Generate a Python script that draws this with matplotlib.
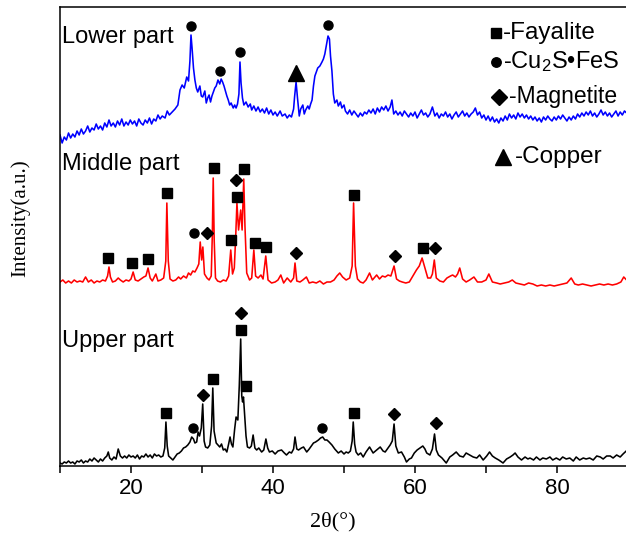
import matplotlib
matplotlib.use("Agg")
import matplotlib.pyplot as plt

plt.rcParams['font.family'] = ['Liberation Sans', 'DejaVu Sans']
plt.rcParams['mathtext.fontset'] = 'custom'
plt.rcParams['mathtext.rm'] = 'Liberation Sans'
plt.rcParams['mathtext.it'] = 'Liberation Sans:italic'

# ---------------- data (2theta in degrees, intensity in a.u.) ----------------
lower_x = [10.0,10.3,10.6,10.9,11.2,11.5,11.8,12.1,12.4,12.7,13.0,13.3,13.6,13.9,14.2,14.5,14.8,15.1,15.4,15.7,
           16.0,16.3,16.6,16.9,17.2,17.5,17.8,18.1,18.4,18.7,19.0,19.3,19.6,19.9,20.2,20.5,20.8,21.1,21.4,21.7,
           22.0,22.3,22.6,22.9,23.2,23.5,23.8,24.1,24.4,24.8,25.1,25.4,25.8,26.2,26.6,26.9,27.2,27.5,27.85,28.1,
           28.3,28.45,28.6,28.8,29.0,29.2,29.4,29.7,29.9,30.1,30.4,30.6,30.8,31.0,31.2,31.4,31.6,31.8,32.0,32.25,
           32.5,32.7,32.9,33.1,33.3,33.5,33.7,33.9,34.1,34.4,34.6,34.8,35.0,35.2,35.35,35.5,35.7,35.9,36.2,36.5,
           36.8,37.0,37.3,37.6,37.9,38.2,38.5,38.8,39.1,39.4,39.7,40.0,40.3,40.6,41.0,41.3,41.7,42.0,42.3,42.6,
           42.9,43.05,43.25,43.45,43.7,43.9,44.2,44.4,44.6,44.9,45.1,45.3,45.5,45.7,45.9,46.1,46.3,46.6,46.9,47.1,
           47.3,47.5,47.75,47.95,48.1,48.3,48.5,48.7,49.0,49.2,49.5,49.7,50.0,50.2,50.5,50.8,51.1,51.4,51.7,52.0,
           52.3,52.6,52.9,53.2,53.5,53.8,54.1,54.4,54.7,55.0,55.3,55.6,55.9,56.2,56.5,56.75,57.0,57.3,57.6,57.9,
           58.2,58.5,58.8,59.1,59.4,59.7,60.0,60.3,60.6,60.9,61.2,61.5,61.8,62.1,62.45,62.8,63.1,63.4,63.7,64.0,
           64.3,64.6,64.9,65.2,65.5,65.8,66.1,66.4,66.7,67.0,67.3,67.6,67.9,68.2,68.5,68.8,69.1,69.4,69.7,70.0,
           70.3,70.6,70.9,71.2,71.5,71.8,72.1,72.4,72.7,73.0,73.3,73.6,73.9,74.2,74.5,74.8,75.1,75.4,75.7,76.0,
           76.3,76.6,76.9,77.2,77.5,77.8,78.1,78.4,78.7,79.0,79.3,79.6,79.9,80.2,80.5,80.8,81.1,81.4,81.7,82.0,
           82.3,82.6,82.9,83.2,83.5,83.8,84.1,84.4,84.7,85.0,85.3,85.6,85.9,86.2,86.5,86.8,87.1,87.4,87.7,88.0,
           88.3,88.6,88.9,89.2,89.5,89.8]
lower_y = [331,323,329,326,333,328,332,329,335,331,337,332,335,340,334,338,336,342,337,340,
           336,343,339,346,340,343,339,345,341,347,340,344,341,346,342,345,340,347,343,341,
           346,343,348,342,347,345,351,347,350,348,355,351,354,357,361,376,381,378,389,385,
           405,431,418,398,386,378,374,380,370,369,375,363,368,371,364,370,374,378,380,386,
           382,387,384,380,375,370,366,361,363,358,361,358,362,372,404,383,368,361,364,359,
           362,356,360,355,359,354,357,353,358,352,356,351,354,350,355,350,352,348,351,349,
           357,370,384,368,350,357,361,352,356,360,357,362,366,380,390,394,398,400,404,407,
           412,420,430,427,410,395,372,363,366,360,364,358,361,355,352,356,351,355,352,349,
           353,350,354,352,356,353,357,352,358,354,359,356,360,355,359,366,352,355,351,354,
           350,355,352,349,353,350,354,348,352,356,351,353,349,352,359,350,353,348,352,350,
           354,349,352,347,351,354,349,352,355,350,353,349,352,354,358,351,354,348,351,346,
           350,345,349,344,347,343,348,345,350,346,352,348,351,347,353,349,352,348,351,347,
           350,346,349,345,348,344,349,346,350,347,345,349,346,350,347,351,348,345,349,346,
           350,347,352,349,353,350,354,351,355,350,353,349,352,356,351,354,350,353,349,352,
           355,350,354,351,355,353]

middle_x = [10.0,10.4,10.8,11.2,11.6,12.0,12.4,12.8,13.2,13.6,14.0,14.4,14.8,15.2,15.6,16.0,16.4,16.7,16.9,17.1,
            17.4,17.8,18.2,18.5,18.9,19.3,19.7,20.0,20.3,20.6,21.0,21.4,21.8,22.1,22.4,22.7,23.0,23.5,23.8,24.2,
            24.6,24.9,25.05,25.25,25.5,25.9,26.3,26.7,27.0,27.4,27.8,28.1,28.4,28.7,29.0,29.3,29.55,29.75,29.95,30.12,
            30.35,30.7,31.0,31.3,31.45,31.58,31.72,31.9,32.2,32.6,33.0,33.4,33.75,34.05,34.3,34.55,34.75,34.92,35.15,35.45,
            35.65,35.88,36.05,36.3,36.7,37.0,37.3,37.55,37.9,38.3,38.6,38.98,39.3,39.8,40.3,40.7,41.1,41.5,42.0,42.5,
            42.9,43.1,43.35,43.8,44.2,44.7,45.1,45.6,46.1,46.6,47.1,47.6,48.1,48.6,49.0,49.4,49.8,50.3,50.8,51.15,
            51.35,51.6,51.9,52.3,52.7,53.1,53.6,54.0,54.6,55.0,55.4,55.8,56.2,56.6,57.05,57.4,57.8,58.2,58.7,59.2,
            59.7,60.2,60.6,61.0,61.4,61.8,62.2,62.45,62.72,63.0,63.5,64.0,64.5,65.0,65.3,65.7,66.0,66.3,66.7,67.2,
            67.7,68.3,68.8,69.4,70.0,70.4,70.9,71.5,72.0,72.6,73.2,73.7,74.2,74.8,75.4,76.0,76.6,77.2,77.8,78.4,
            79.0,79.6,80.2,80.8,81.4,82.0,82.5,83.0,83.6,84.2,84.8,85.4,86.0,86.6,87.2,87.8,88.4,89.0,89.4,89.8]
middle_y = [184,186,183,185,183,186,184,185,184,189,184,186,183,185,184,186,185,190,199,189,
            184,185,188,186,184,186,185,187,194,186,185,187,189,190,198,188,185,192,185,186,
            188,205,263,205,187,185,186,189,187,190,188,193,191,195,194,198,202,224,206,219,
            192,188,186,190,230,288,225,188,185,184,186,185,190,216,192,198,230,263,236,256,
            236,287,240,193,186,188,216,190,188,191,187,210,186,183,184,186,191,183,188,184,
            188,203,185,184,186,189,183,184,183,185,182,184,184,186,190,193,189,186,188,200,
            263,200,187,184,183,186,193,186,191,187,190,189,191,190,200,187,185,184,183,184,
            190,196,200,208,198,188,188,192,206,188,185,184,188,190,191,189,192,198,187,184,
            186,189,184,184,186,192,184,183,182,183,184,186,183,182,181,183,182,180,181,180,
            181,180,181,182,183,188,182,181,182,181,180,181,182,181,182,181,182,184,189,186]

upper_x = [10.0,10.3,10.6,10.9,11.2,11.5,11.8,12.1,12.4,12.7,13.0,13.3,13.6,13.9,14.2,14.5,14.8,15.1,15.4,15.7,
           16.0,16.3,16.6,16.8,17.0,17.3,17.6,17.9,18.2,18.5,18.8,19.1,19.4,19.7,20.0,20.3,20.6,20.9,21.2,21.5,
           21.8,22.1,22.4,22.7,23.0,23.3,23.6,23.9,24.2,24.5,24.75,24.92,25.1,25.3,25.6,25.9,26.2,26.5,26.8,27.1,
           27.4,27.7,28.0,28.3,28.55,28.8,29.0,29.25,29.45,29.65,29.9,30.1,30.3,30.5,30.8,31.1,31.35,31.52,31.7,32.0,
           32.25,32.5,32.75,33.0,33.25,33.5,33.75,33.95,34.15,34.35,34.6,34.8,35.05,35.25,35.45,35.6,35.72,35.84,36.0,36.2,
           36.4,36.7,36.95,37.2,37.45,37.7,38.0,38.4,38.7,39.0,39.25,39.5,39.9,40.3,40.7,41.2,41.6,41.9,42.3,42.6,
           42.9,43.1,43.35,43.6,44.0,44.3,44.75,45.1,45.4,45.7,46.0,46.4,46.7,47.0,47.3,47.6,47.9,48.3,48.7,49.2,
           49.6,50.0,50.3,50.6,50.9,51.15,51.3,51.5,51.7,52.0,52.35,52.7,53.1,53.6,54.1,54.6,55.1,55.5,55.8,56.2,
           56.5,56.8,57.05,57.3,57.65,58.1,58.5,58.8,59.2,59.5,59.9,60.3,60.7,61.1,61.4,61.65,62.1,62.45,62.75,63.0,
           63.3,63.8,64.4,64.9,65.3,65.8,66.3,66.8,67.2,67.7,68.2,68.7,69.1,69.6,70.1,70.5,70.9,71.3,71.8,72.4,
           72.9,73.4,73.8,74.1,74.5,75.0,75.5,75.9,76.2,76.7,77.1,77.6,78.0,78.5,79.0,79.4,79.9,80.4,80.8,81.3,
           81.8,82.3,82.7,83.2,83.7,84.1,84.6,85.1,85.6,86.1,86.5,87.0,87.5,87.9,88.4,88.9,89.3,89.6,89.9]
upper_y = [3,2,4,3,5,3,4,2,5,4,6,3,5,4,7,5,8,6,4,7,
           5,8,10,14,8,6,9,7,17,10,8,10,8,11,9,10,8,11,7,10,
           9,12,9,11,8,12,10,11,9,10,18,44,20,10,8,6,9,12,13,15,
           18,19,21,24,29,27,23,24,34,30,38,62,25,19,18,21,40,78,35,23,
           21,19,22,16,17,14,22,29,22,19,37,49,46,80,127,70,64,69,52,30,
           19,18,20,31,18,16,18,14,16,27,18,14,15,12,15,16,13,11,14,13,
           17,29,17,16,18,19,14,17,20,23,24,26,28,29,26,26,24,21,17,13,
           15,12,14,13,15,25,44,22,14,11,13,9,14,19,13,16,19,15,14,18,
           21,25,42,20,13,14,9,4,7,8,13,16,18,20,17,13,11,17,32,16,
           11,8,3,9,11,14,10,9,13,11,9,8,11,6,10,14,10,8,6,3,
           7,9,11,13,9,6,9,7,8,6,9,6,8,7,9,6,8,6,9,7,
           8,5,9,6,8,7,8,6,10,9,7,10,10,8,11,9,12,14,16]

# phase markers (2theta, intensity)
lower_circ_x = [28.45, 32.55, 35.35, 47.75]
lower_circ_y = [440, 395, 414, 441]
lower_tri_x = [43.25]
lower_tri_y = [393]

middle_sq_x = [16.8, 20.2, 22.35, 25.0, 31.65, 34.05, 34.9, 35.9, 37.4, 39.0, 51.4, 61.1]
middle_sq_y = [208, 203, 207, 273, 298, 226, 269, 297, 223, 219, 271, 218]
middle_circ_x = [28.9]
middle_circ_y = [233]
middle_dia_x = [30.65, 34.8, 43.2, 57.2, 62.8]
middle_dia_y = [233, 286, 213, 210, 218]

upper_sq_x = [24.9, 31.6, 35.5, 36.2, 51.4]
upper_sq_y = [53, 87, 136, 80, 53]
upper_dia_x = [30.1, 35.55, 57.1, 62.9]
upper_dia_y = [71, 153, 52, 43]
upper_circ_x = [28.8, 46.95]
upper_circ_y = [38, 38]

sample_labels = ["Lower part", "Middle part", "Upper part"]
sample_label_y = [423, 296, 119]
legend_labels = ["-Fayalite", "-Cu$_{2}$S\u2022FeS", "-Magnetite", "-Copper"]

# ---------------- figure ----------------
W, H = 626, 541
fig = plt.figure(figsize=(W / 100, H / 100), dpi=100)
ax = fig.add_axes([60 / W, 75 / H, 568 / W, 459 / H])

ax.plot(lower_x, lower_y, color='#0000ff', lw=1.15)
ax.plot(middle_x, middle_y, color='#ff0000', lw=1.15)
ax.plot(upper_x, upper_y, color='black', lw=1.15)

mk = dict(color='black', ls='none')
ax.plot(lower_circ_x, lower_circ_y, 'o', ms=6.5, **mk)
ax.plot(lower_tri_x, lower_tri_y, '^', ms=11, **mk)
ax.plot(middle_sq_x, middle_sq_y, 's', ms=7.2, **mk)
ax.plot(middle_circ_x, middle_circ_y, 'o', ms=6.5, **mk)
ax.plot(middle_dia_x, middle_dia_y, 'D', ms=6.2, **mk)
ax.plot(upper_sq_x, upper_sq_y, 's', ms=7.2, **mk)
ax.plot(upper_dia_x, upper_dia_y, 'D', ms=6.2, **mk)
ax.plot(upper_circ_x, upper_circ_y, 'o', ms=6.5, **mk)

for lab, yy in zip(sample_labels, sample_label_y):
    ax.text(10.3, yy, lab, fontsize=17, va='baseline', ha='left')

# legend (symbol + text)
leg_sym = ['s', 'o', 'D', '^']
leg_ms = [6.8, 6.8, 8.0, 11.5]
leg_sym_x = [71.4, 71.4, 71.9, 72.4]
leg_txt_x = [72.4, 72.4, 73.2, 74.1]
leg_y = [433, 404, 369, 309]
leg_fs = [17.5, 17, 16.5, 17.5]
for s, m, sx, tx, yy, lab, fs in zip(leg_sym, leg_ms, leg_sym_x, leg_txt_x, leg_y, legend_labels, leg_fs):
    ax.plot([sx], [yy], s, ms=m, color='black', ls='none', clip_on=False)
    ax.text(tx, yy, lab, fontsize=fs, va='center', ha='left')

ax.set_xlim(10, 90)
ax.set_ylim(0, 459)
ax.set_xticks([20, 40, 60, 80])
ax.set_xticks([10, 30, 50, 70, 90], minor=True)
ax.set_yticks([])
ax.tick_params(axis='x', which='both', direction='out', length=5, width=1.1,
               labelsize=16, pad=4)
for sp in ax.spines.values():
    sp.set_linewidth(1.1)

fig.text(20 / W, 1 - 218 / H, 'Intensity(a.u.)', rotation=90, ha='center', va='center',
         family=['Liberation Serif', 'DejaVu Serif'], fontsize=15)
fig.text(333 / W, 1 - 522 / H, '2\u03b8(\u00b0)', ha='center', va='center',
         family=['Liberation Serif', 'DejaVu Serif'], fontsize=16)

fig.savefig('out.png', dpi=100)
